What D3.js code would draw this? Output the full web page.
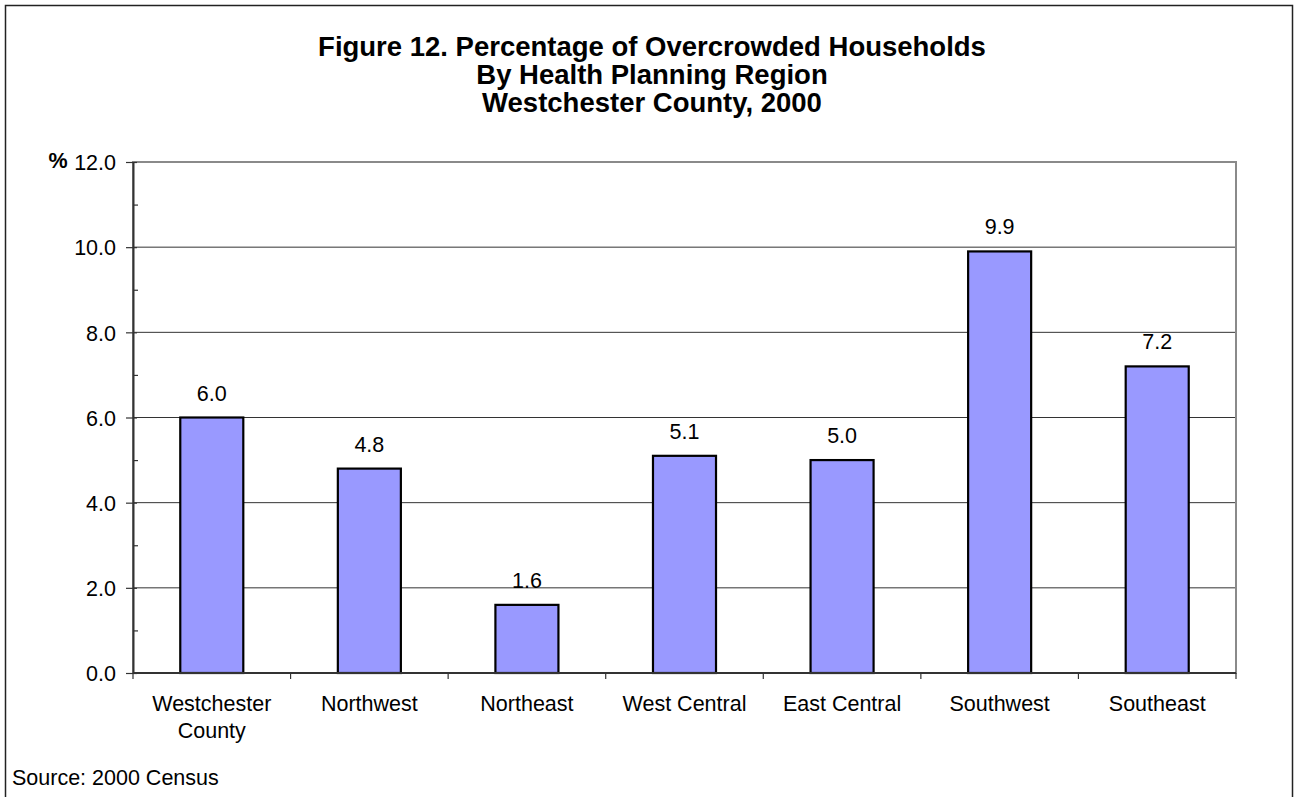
<!DOCTYPE html>
<html><head><meta charset="utf-8">
<script src="https://cdn.jsdelivr.net/npm/d3@7"></script>
<style>body{margin:0;background:#fff;} text{font-family:"Liberation Sans",Arial,sans-serif;}</style>
</head><body>
<svg id="c" width="1294" height="797"></svg>
<script>
const categories = ["Westchester County","Northwest","Northeast","West Central","East Central","Southwest","Southeast"];
const values = [6.0, 4.8, 1.6, 5.1, 5.0, 9.9, 7.2];
const yTicks = [0,2,4,6,8,10,12];
const titleLines = ["Figure 12. Percentage of Overcrowded Households","By Health Planning Region","Westchester County, 2000"];

const FS = 21.5;
const svg = d3.select("#c");
svg.append("rect").attr("x",5.5).attr("y",5.5).attr("width",1287).attr("height",800)
  .attr("fill","#fff").attr("stroke","#222").attr("stroke-width",1.5);

const L=133, R=1236, T=162, B=673;
const x = d3.scaleBand().domain(categories).range([L,R]).paddingInner(0).paddingOuter(0);
const y = d3.scaleLinear().domain([0,12]).range([B,T]);

// gridlines
svg.append("g").selectAll("line").data(yTicks.filter(d=>d>0 && d<12)).join("line")
  .attr("x1",L).attr("x2",R).attr("y1",d=>y(d)).attr("y2",d=>y(d))
  .attr("stroke","#333").attr("stroke-width",1);
// plot border
svg.append("rect").attr("x",L).attr("y",T).attr("width",R-L).attr("height",B-T)
  .attr("fill","none").attr("stroke","#8a8a8a").attr("stroke-width",2);

// bars
const bw = x.bandwidth()*0.4;
svg.append("g").selectAll("rect").data(values).join("rect")
  .attr("x",(d,i)=>x(categories[i])+x.bandwidth()/2-bw/2)
  .attr("y",d=>y(d)).attr("width",bw).attr("height",d=>B-y(d))
  .attr("fill","#9999ff").attr("stroke","#000").attr("stroke-width",2.2);

// value labels
svg.append("g").selectAll("text").data(values).join("text")
  .attr("x",(d,i)=>x(categories[i])+x.bandwidth()/2)
  .attr("y",d=>y(d)-17).attr("text-anchor","middle").attr("font-size",FS)
  .text(d=>d3.format(".1f")(d));

// y axis
const ya = svg.append("g").attr("transform",`translate(${L},0)`)
  .call(d3.axisLeft(y).tickValues(d3.range(0,13,1)).tickFormat(d=>d%2===0?d3.format(".1f")(d):"").tickSize(0));
ya.select(".domain").attr("stroke","#333").attr("stroke-width",2);
ya.selectAll(".tick line").attr("x1",d=>d%2===0?-7:0).attr("x2",d=>d%2===0?4:5).attr("stroke","#333").attr("stroke-width",1.2);
ya.selectAll(".tick text").attr("x",-17).attr("dy","0.36em").attr("font-size",FS).attr("fill","#000").attr("font-family","Liberation Sans, Arial, sans-serif");

// x axis
const xa = svg.append("g").attr("transform",`translate(0,${B})`);
xa.append("line").attr("x1",L).attr("x2",R).attr("stroke","#333").attr("stroke-width",2);
xa.selectAll(".xt").data(categories.concat(["_end"])).join("line")
  .attr("x1",(d,i)=>L+i*x.bandwidth()).attr("x2",(d,i)=>L+i*x.bandwidth())
  .attr("y1",0).attr("y2",6).attr("stroke","#333").attr("stroke-width",1.2);
const xl = svg.append("g").selectAll("text").data(categories).join("text")
  .attr("text-anchor","middle").attr("font-size",FS)
  .attr("x",d=>x(d)+x.bandwidth()/2).attr("y",711);
xl.each(function(d){
  const t=d3.select(this);
  const parts = d==="Westchester County" ? ["Westchester","County"] : [d];
  parts.forEach((p,i)=>t.append("tspan").attr("x",x(d)+x.bandwidth()/2).attr("dy",i?27:0).text(p));
});

// % label
svg.append("text").attr("x",58).attr("y",168).attr("font-size",FS).attr("font-weight","bold").attr("text-anchor","middle").text("%");

// title
svg.append("g").selectAll("text").data(titleLines).join("text")
  .attr("x",652).attr("y",(d,i)=>56+i*28).attr("text-anchor","middle")
  .attr("font-size",27.5).attr("font-weight","bold").text(d=>d);

svg.append("text").attr("x",12).attr("y",785).attr("font-size",FS).text("Source: 2000 Census");
</script>
</body></html>
